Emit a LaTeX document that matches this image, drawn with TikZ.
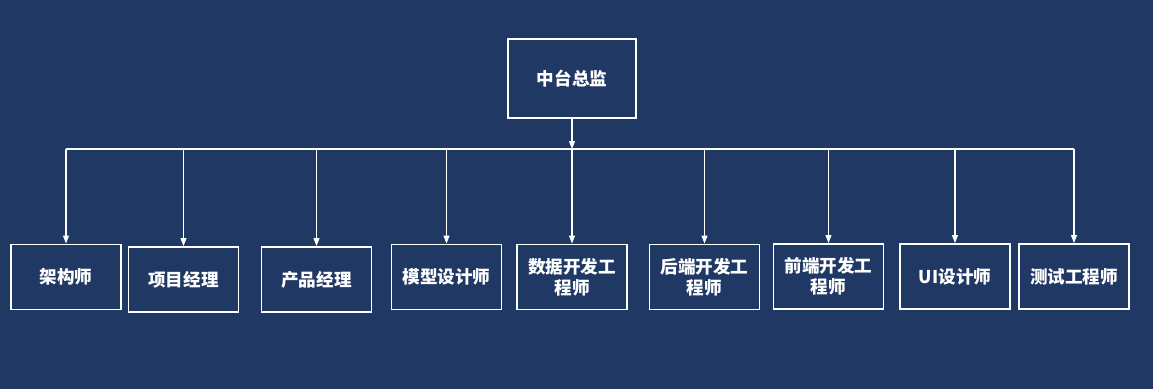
\documentclass[tikz,border=0pt]{standalone}
\usepackage{fontspec}
\usepackage{tikz}
\usetikzlibrary{positioning,arrows.meta}
\usepackage{xcolor}
\newfontfamily\cjk{Noto Sans CJK SC}
\definecolor{navy}{RGB}{32,56,100}

\begin{document}
\begin{tikzpicture}[>={Triangle[length=1.6mm,width=1.2mm]},
  role/.style={draw=white,line width=1.1pt,text=white,align=center,
    minimum width=2.2cm,minimum height=1.3cm,inner sep=1pt,
    font=\cjk\bfseries\fontsize{10}{12}\selectfont},
  link/.style={draw=white,line width=0.6pt}]
\fill[navy] (0,0) rectangle (23.06,7.78);
\useasboundingbox (0,0) rectangle (23.06,7.78);
\node[role,minimum width=2.56cm,minimum height=1.58cm] (head) at (11.44,6.21) {中台总监};
\node[role] (r1) at (1.32,2.24) {架构师};
\node[role] (r2) at (3.67,2.19) {项目经理};
\node[role] (r3) at (6.33,2.19) {产品经理};
\node[role] (r4) at (8.93,2.24) {模型设计师};
\node[role] (r5) at (11.44,2.24) {数据开发工\\程师};
\node[role] (r6) at (14.09,2.24) {后端开发工\\程师};
\node[role] (r7) at (16.57,2.25) {前端开发工\\程师};
\node[role] (r8) at (19.10,2.25) {UI设计师};
\node[role] (r9) at (21.48,2.25) {测试工程师};
\coordinate (bar) at (11.44,4.8);
\draw[link,->] (head) -- (bar);
\draw[link] (r1 |- bar) -- (r9 |- bar);
\foreach \r in {r1,r2,r3,r4,r5,r6,r7,r8,r9}
  \draw[link,->] (\r |- bar) -- (\r.north);
\end{tikzpicture}
\end{document}
